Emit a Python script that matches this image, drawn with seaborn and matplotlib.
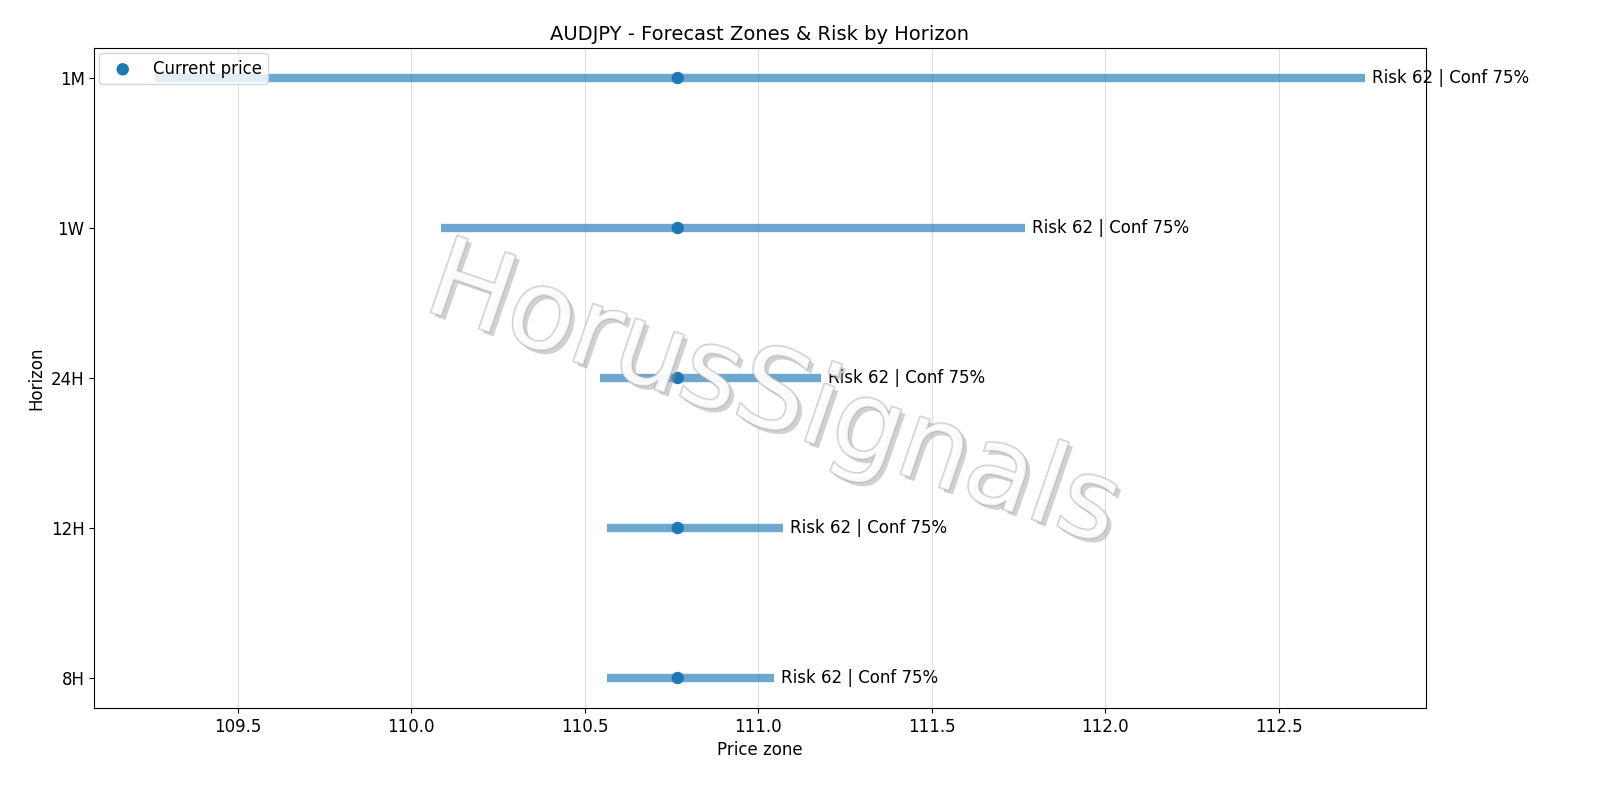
import matplotlib
matplotlib.use("Agg")
import matplotlib.pyplot as plt
import matplotlib.patheffects as pe
import seaborn as sns
import pandas as pd

horizons = ["8H", "12H", "24H", "1W", "1M"]
low = [110.564, 110.564, 110.543, 110.085, 109.262]
high = [111.045, 111.071, 111.180, 111.768, 112.748]
current = [110.768, 110.768, 110.768, 110.768, 110.768]
risk = [62, 62, 62, 62, 62]
conf = [75, 75, 75, 75, 75]

df = pd.DataFrame({"h": horizons, "y": range(len(horizons)), "low": low,
                   "high": high, "cur": current})

fig, ax = plt.subplots(figsize=(16, 8), dpi=100)
ax.hlines(df["y"], df["low"], df["high"], color="#1f77b4", alpha=0.65, linewidth=6, zorder=2)
sns.scatterplot(data=df, x="cur", y="y", ax=ax, color="#1f77b4", s=80,
                edgecolor="none", label="Current price", zorder=3)
for i in range(len(horizons)):
    ax.text(high[i] + 0.02, i, f"Risk {risk[i]} | Conf {conf[i]}%", va="center",
            fontsize=12)
ax.set_yticks(range(len(horizons)))
ax.set_yticklabels(horizons, fontsize=12)
ax.tick_params(axis="x", labelsize=12)
ax.grid(axis="x", color="#dddddd", linewidth=0.8)
ax.set_axisbelow(True)
ax.set_xlabel("Price zone", fontsize=12)
ax.set_ylabel("Horizon", fontsize=12)
ax.set_title("AUDJPY - Forecast Zones & Risk by Horizon", fontsize=14)
ax.legend(loc="upper left", fontsize=12, borderaxespad=0.3)
ax.text(0.51, 0.47, "HorusSignals", transform=ax.transAxes, fontsize=80,
        color="white", alpha=0.6, rotation=-19, ha="center", va="center",
        path_effects=[pe.withSimplePatchShadow(offset=(3, -3), shadow_rgbFace="#999999", alpha=0.45),
                      pe.Stroke(linewidth=1.5, foreground="#aaaaaa"), pe.Normal()], zorder=4)
plt.subplots_adjust(left=0.059, right=0.891, top=0.94, bottom=0.115)
fig.savefig("out.png")
